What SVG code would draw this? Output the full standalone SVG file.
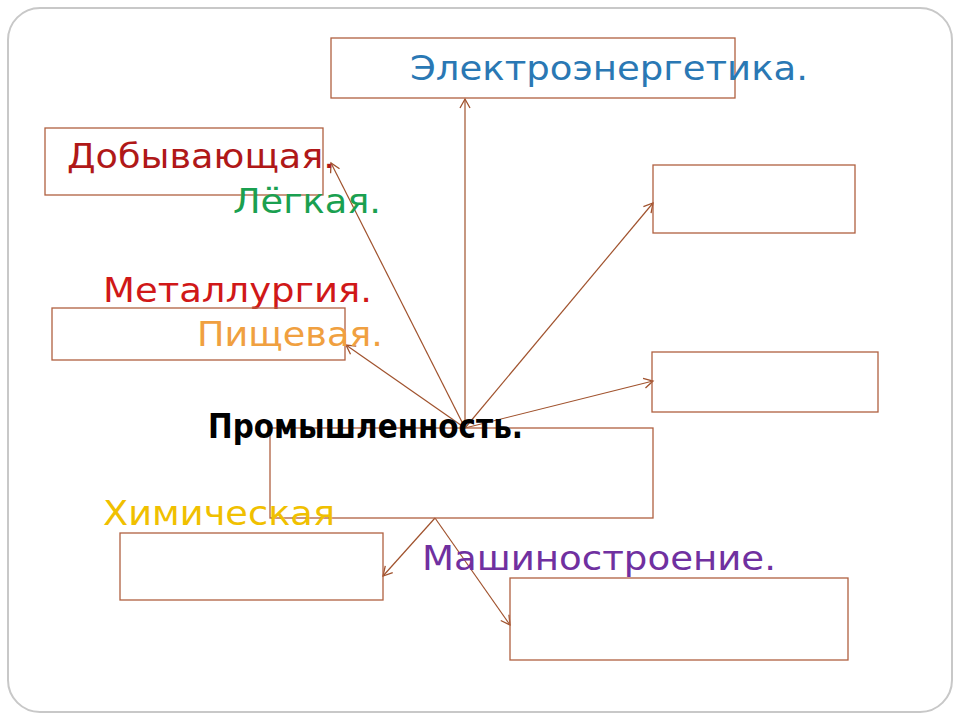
<svg xmlns="http://www.w3.org/2000/svg" width="960" height="720" viewBox="0 0 960 720">
<defs>
<marker id="ah" markerWidth="12" markerHeight="12" refX="10" refY="6" orient="auto" markerUnits="userSpaceOnUse">
<path d="M1,1 L10,6 L1,11" fill="none" stroke="#a0522d" stroke-width="1.3"/>
</marker>
<style>
.b{fill:none;stroke:#b06040;stroke-width:1.3}
.c{stroke:#a0522d;stroke-width:1.2;fill:none;marker-end:url(#ah)}
text{font-family:"DejaVu Sans","Liberation Sans",sans-serif;font-size:33px}
</style>
</defs>
<rect width="960" height="720" fill="#fff"/>
<rect x="8" y="8" width="944" height="704" rx="32" fill="none" stroke="#c8c8c8" stroke-width="2"/>
<g id="connectors">
<line class="c" x1="465" y1="428" x2="465" y2="99"/>
<line class="c" x1="465" y1="428" x2="331" y2="163"/>
<line class="c" x1="465" y1="428" x2="346" y2="345"/>
<line class="c" x1="465" y1="428" x2="653" y2="203"/>
<line class="c" x1="465" y1="428" x2="653" y2="381"/>
<line class="c" x1="435" y1="518" x2="383" y2="576"/>
<line class="c" x1="435" y1="518" x2="510" y2="625"/>
</g>
<g id="n-electro"><rect class="b" x="331" y="38" width="404" height="60"/><text x="410" y="80" fill="#2a78b4" textLength="398" lengthAdjust="spacingAndGlyphs">Электроэнергетика.</text></g>
<g id="n-dob"><rect class="b" x="45" y="128" width="278" height="67"/><text x="67" y="168" fill="#b01818" textLength="268" lengthAdjust="spacingAndGlyphs">Добывающая.</text></g>
<g id="n-leg"><text x="233" y="213" fill="#1aa050" textLength="148" lengthAdjust="spacingAndGlyphs">Лёгкая.</text></g>
<g id="n-r1"><rect class="b" x="653" y="165" width="202" height="68"/></g>
<g id="n-met"><text x="103" y="302" fill="#d01818" textLength="269" lengthAdjust="spacingAndGlyphs">Металлургия.</text></g>
<g id="n-pish"><rect class="b" x="52" y="308" width="293" height="52"/><text x="197" y="346" fill="#f0a040" textLength="186" lengthAdjust="spacingAndGlyphs">Пищевая.</text></g>
<g id="n-r2"><rect class="b" x="652" y="352" width="226" height="60"/></g>
<g id="n-center"><rect class="b" x="270" y="428" width="383" height="90"/><text x="208" y="438" fill="#000" font-weight="bold" textLength="315" lengthAdjust="spacingAndGlyphs">Промышленность.</text></g>
<g id="n-him"><text x="103" y="525" fill="#f0c000" textLength="232" lengthAdjust="spacingAndGlyphs">Химическая</text><rect class="b" x="120" y="533" width="263" height="67"/></g>
<g id="n-mash"><text x="422" y="570" fill="#7030a0" textLength="354" lengthAdjust="spacingAndGlyphs">Машиностроение.</text><rect class="b" x="510" y="578" width="338" height="82"/></g>
</svg>
